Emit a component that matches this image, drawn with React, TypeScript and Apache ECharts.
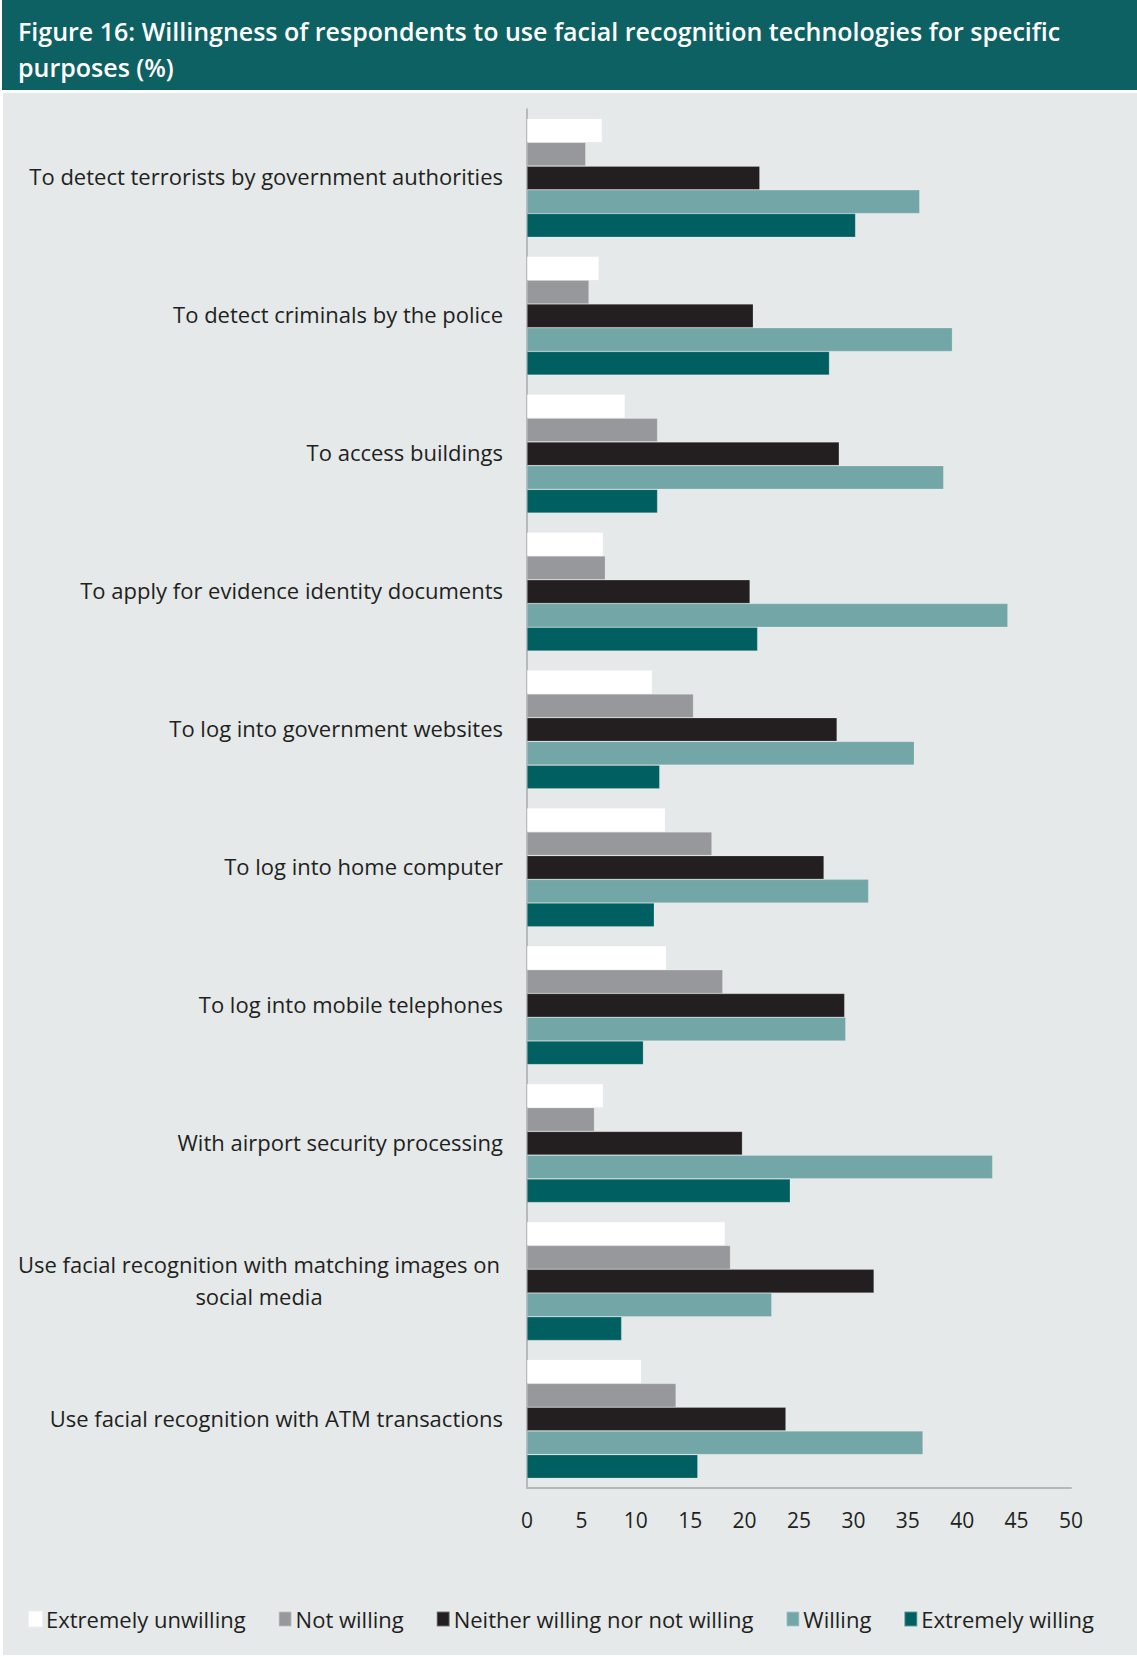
import React, { useEffect, useRef } from "react";
import * as echarts from "echarts";

const categories = [
  "To detect terrorists by government authorities",
  "To detect criminals by the police",
  "To access buildings",
  "To apply for evidence identity documents",
  "To log into government websites",
  "To log into home computer",
  "To log into mobile telephones",
  "With airport security processing",
  "Use facial recognition with matching images on\nsocial media",
  "Use facial recognition with ATM transactions",
];

const seriesNames = [
  "Extremely unwilling",
  "Not willing",
  "Neither willing nor not willing",
  "Willing",
  "Extremely willing",
];

const extremelyUnwilling = [6.9, 6.6, 9.0, 7.0, 11.5, 12.7, 12.8, 7.0, 18.2, 10.5];
const notWilling = [5.4, 5.7, 12.0, 7.2, 15.3, 17.0, 18.0, 6.2, 18.7, 13.7];
const neither = [21.4, 20.8, 28.7, 20.5, 28.5, 27.3, 29.2, 19.8, 31.9, 23.8];
const willing = [36.1, 39.1, 38.3, 44.2, 35.6, 31.4, 29.3, 42.8, 22.5, 36.4];
const extremelyWilling = [30.2, 27.8, 12.0, 21.2, 12.2, 11.7, 10.7, 24.2, 8.7, 15.7];

const colors = ["#ffffff", "#97989b", "#231f20", "#72a6a7", "#005f60"];

const xTicks = { min: 0, max: 50, interval: 5 };

const FONT = "'Open Sans', sans-serif";

export default function App() {
  const ref = useRef<HTMLDivElement>(null);

  useEffect(() => {
    if (!ref.current) return;
    const chart = echarts.init(ref.current, null, { renderer: "svg" });
    const values = [extremelyUnwilling, notWilling, neither, willing, extremelyWilling];
    chart.setOption({
      animation: false,
      backgroundColor: "#ffffff",
      textStyle: { fontFamily: FONT },
      graphic: [
        {
          type: "rect",
          shape: { x: 2, y: 0, width: 1135, height: 90 },
          style: { fill: "#0e6163" },
          z: -10,
        },
        {
          type: "rect",
          shape: { x: 3, y: 93, width: 1134, height: 1562 },
          style: { fill: "#e5e9ea" },
          z: -10,
        },
        {
          type: "text",
          x: 18,
          y: 13,
          style: {
            text: "Figure 16: Willingness of respondents to use facial recognition technologies for specific\npurposes (%)",
            fill: "#ffffff",
            font: `600 25px ${FONT}`,
            lineHeight: 36,
          },
          z: 10,
        },
      ],
      legend: {
        data: seriesNames,
        left: 23,
        top: 1603,
        icon: "rect",
        itemWidth: 13,
        itemHeight: 15,
        itemGap: 32,
        textStyle: { fontSize: 22, color: "#231f20", fontFamily: FONT, padding: [0, 0, 0, -1] },
      },
      grid: { left: 527, right: 66, top: 109, bottom: 169, containLabel: false },
      xAxis: {
        type: "value",
        min: xTicks.min,
        max: xTicks.max,
        interval: xTicks.interval,
        axisLine: { show: true, lineStyle: { color: "#b5b7b9", width: 2 } },
        axisTick: { show: false },
        splitLine: { show: false },
        axisLabel: { fontSize: 21, color: "#231f20", margin: 21, fontFamily: FONT },
      },
      yAxis: {
        type: "category",
        data: categories,
        inverse: true,
        axisLine: { show: true, lineStyle: { color: "#a7a9ab", width: 1.5 } },
        axisTick: { show: false },
        axisLabel: {
          fontSize: 22,
          color: "#231f20",
          margin: 24,
          fontFamily: FONT,
          lineHeight: 32,
          padding: [0, 0, 3, 0],
          formatter: (v: string) => {
            if (v.includes("\n")) {
              return v
                .split("\n")
                .map((l) => `{c|${l}}`)
                .join("\n");
            }
            return v;
          },
          rich: {
            c: {
              width: 488,
              align: "center",
              fontSize: 22,
              color: "#231f20",
              fontFamily: FONT,
              lineHeight: 32,
            },
          },
        },
      },
      series: seriesNames.map((name, i) => ({
        name,
        type: "bar",
        data: values[i],
        barGap: "0%",
        barCategoryGap: "14%",
        itemStyle: { color: colors[i], borderColor: "rgba(255,255,255,0.35)", borderWidth: 0.6 },
      })),
    });
    return () => chart.dispose();
  }, []);

  return (
    <div
      ref={ref}
      style={{ position: "absolute", left: 0, top: 0, width: 1137, height: 1657 }}
    />
  );
}
